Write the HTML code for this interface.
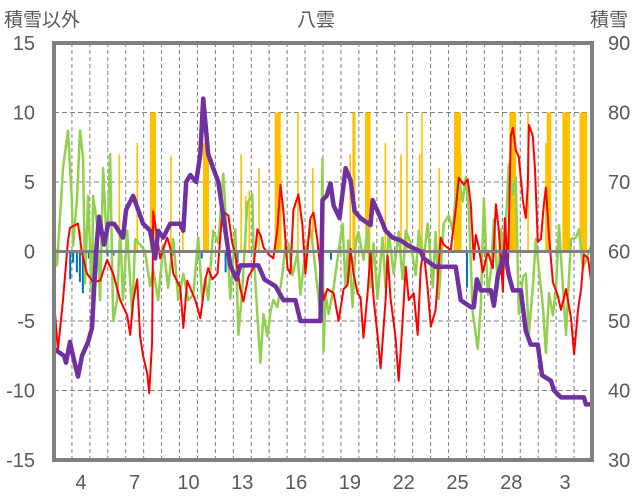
<!DOCTYPE html>
<html><head><meta charset="utf-8">
<style>
html,body{margin:0;padding:0;background:#fff;}
svg{display:block;font-family:"Liberation Sans","Noto Sans CJK JP",sans-serif;}
</style></head>
<body>
<svg id="chart" width="636" height="501" viewBox="0 0 636 501"></svg>
<script>
// ---- data ----
const leftTicks = [15, 10, 5, 0, -5, -10, -15];
const rightTicks = [90, 80, 70, 60, 50, 40, 30];
const dayLabels = ["4","7","10","13","16","19","22","25","28","3"];
const dayLabelIdx = [1,4,7,10,13,16,19,22,25,28];
const redT = [0,0.22,0.5,0.78,0.89,1.17,1.34,1.56,1.84,2.18,2.57,2.96,3.3,3.69,4.08,4.25,4.41,4.64,4.8,4.97,5.2,5.31,5.47,5.53,5.92,6.31,6.48,6.65,7.04,7.21,7.43,7.88,8.16,8.44,8.6,8.83,9.11,9.39,9.72,9.94,10.11,10.39,10.56,10.84,11.12,11.34,11.51,11.68,11.96,12.23,12.46,12.63,12.79,13.02,13.18,13.35,13.63,13.85,14.02,14.3,14.47,14.69,15.03,15.25,15.59,15.87,16.15,16.37,16.54,16.7,16.93,17.09,17.26,17.49,17.65,17.82,18.04,18.21,18.49,18.6,18.77,19.05,19.22,19.44,19.61,19.78,20.06,20.28,20.45,20.61,20.84,21.01,21.28,21.56,21.73,22.12,22.4,22.57,22.85,23.07,23.24,23.41,23.52,23.69,23.91,24.19,24.47,24.64,24.8,25.03,25.14,25.31,25.47,25.59,25.75,25.92,26.15,26.31,26.42,26.48,26.7,26.82,26.98,27.15,27.32,27.43,27.6,27.82,28.1,28.27,28.55,28.83,29.0,29.22,29.39,29.55,29.78,30];
const redV = [-3.5,-7.1,-3.5,0.8,1.7,1.9,2,-0.1,-1.6,-2.2,-2.1,-0.6,-1.6,-3.5,-4.6,-6,-3.6,-2,-6.1,-7.5,-8.8,-10.2,-6.5,2.9,-0.5,1,0.3,-1.6,-2.6,-5.5,-2.1,-3.5,-4.8,-2,-1.2,-2,-1.6,2.9,2.6,0.6,-0.2,-2.7,-3.6,-1.8,-1.2,1.6,1.2,0.3,-0.2,-0.5,1.6,4.8,2.9,-1.2,-1.6,3,4.1,1.9,-1.6,2.4,2.8,0.8,-3.5,-2.7,-3,-5,-2.7,-2.4,0.2,-1.6,-3,-3.3,-6.2,-2.9,0,-3.4,-6,-8.4,-3.5,-0.3,-3.4,-6.2,-9.3,-5,-1.1,-3.5,-3,-6,-1.2,0.1,-2.7,-5.4,-4.2,1,0.5,0.1,3,5.3,4.8,5.2,3.4,-0.6,1.2,0.3,-1.5,0,-1.2,3.4,1.6,-2.9,2.4,-1.2,8.3,8.9,7.3,6.8,3.6,2.4,4.8,9.1,8.3,5.9,0.7,0.9,3.4,4.6,1.1,-2.2,-3.2,-4.2,-2.7,-4.8,-7.4,-4.2,-2.7,-0.2,-0.5,-2.7];
const greenT = [0,0.17,0.5,0.78,1.0,1.06,1.28,1.45,1.62,1.73,1.9,2.12,2.18,2.4,2.57,2.74,2.96,3.13,3.3,3.52,3.69,3.85,4.08,4.36,4.53,4.8,5.08,5.36,5.53,5.81,6.09,6.37,6.65,6.93,7.21,7.49,7.77,8.04,8.27,8.44,8.6,8.88,9.16,9.44,9.66,9.83,10.11,10.28,10.5,10.78,11.06,11.12,11.34,11.51,11.68,11.9,12.07,12.23,12.46,12.74,12.91,13.07,13.3,13.58,13.74,14.02,14.3,14.47,14.69,14.86,14.97,15.03,15.14,15.31,15.59,15.87,16.09,16.26,16.42,16.65,16.82,16.98,17.26,17.49,17.65,17.82,18.04,18.32,18.49,18.66,18.94,19.22,19.44,19.61,19.89,20.17,20.34,20.61,20.84,21.12,21.28,21.45,21.73,22.01,22.23,22.4,22.57,22.79,22.96,23.13,23.35,23.63,23.8,23.97,24.19,24.36,24.53,24.75,24.92,25.08,25.36,25.59,25.75,25.92,26.15,26.31,26.48,26.7,26.87,27.04,27.26,27.43,27.6,27.82,27.99,28.16,28.38,28.55,28.83,29.11,29.27,29.5,29.78,30];
const greenV = [0.8,-1,6,8.7,3.6,0.4,3.8,8.7,6.7,-2.3,4,-3.5,4,2,-3.5,6,0,7,-5,-3.5,1.5,-3.5,1.5,-4.6,0.9,0.5,0,-2.5,-1.3,-3.5,0.5,-2.6,0.9,-3.5,-1.6,-3.5,-3.1,1,-3.5,-1.9,-3.5,1.5,0.6,5.6,0.6,-3.4,1.6,-6,-2.7,3.5,4.1,0.2,-4.6,-8,-4.5,-6.1,-4.3,-3.5,-4,-1.6,0.6,0.6,-1.7,-0.1,-3.1,0,1.6,0,-2.6,-4.6,6.7,-7.2,-3,-4.5,-2.6,0,2,-2.6,0.8,-4,0.6,1.4,-0.6,1.7,-2.6,0.6,-3.4,1,-2.6,1.4,-1.6,1.4,-2,1.5,0.6,-1.7,1.5,-0.6,2,-2.6,1.4,-3.4,2,2.6,1.5,4,5.3,3.6,5.3,3,-4.4,-7,-3.9,3.8,-3.1,-1.4,2.3,-2.6,1.6,-1.2,6.3,4.1,5.3,-4.5,-1.8,-1.6,-5.9,-2.6,0.9,-1.3,-4,-7.3,-3,-4.6,-2.6,1.9,-2.6,-6,0.9,1,1.6,-1.2,-0.2,0.6];
const depthT = [0,0.56,0.67,0.89,1.06,1.34,1.56,1.9,2.12,2.35,2.51,2.79,3.02,3.35,3.85,4.02,4.41,4.97,5.36,5.64,5.81,6.09,6.48,7.04,7.21,7.37,7.6,7.93,8.16,8.32,8.6,8.88,9.16,9.5,9.83,10.17,10.39,11.4,11.73,12.35,12.79,13.46,13.74,14.86,14.97,15.2,15.42,15.59,15.92,16.26,16.54,16.76,17.09,17.65,17.77,18.21,18.49,18.88,19.33,19.78,20.45,20.61,21.28,22.4,22.68,23.24,23.41,23.58,23.8,24.36,24.53,24.75,24.92,25.14,25.36,25.59,26.03,26.31,26.59,26.98,27.21,27.71,27.88,28.27,29.55,29.66,30];
const depthV = [46,45,44,47,45,42,45,47,49,60,65,61,64,64,62,66,68,64,63,59,63,62,64,64,63,70,71,70,74,82,74,72,70,64,58,56,58,58,56,55,53,53,50,50,67.4,68,69.8,66.6,64.8,72,70.2,65.8,64.8,63.8,67.4,64.8,63,62,61.6,60.8,60,59,57.8,57.8,53,52,52,56,54.4,54.4,52.2,56.6,58,60,56.6,54.4,54.4,48.6,46.6,46.6,42.2,41.4,40,39,39,38,38];
const snowH = [35,87,111,129,130,131,132,133,134,135,156,172,200,201,202,203,204,205,206,250,256,261,274,296,297,298,299,300,301,302,303,326,346,396,400,401,402,417,418,419,420,421,422,443,464,472,489,492,515,536,537,538,539,540,541,542,543,544,610,611,612,613,614,615,616,617,634,658,660,661,662,663,664,681,682,683,684,685,686,687,688,689,704,705,706,707,708,709,710,711,712];
const snowV = [1.5,7,7.8,10,10,10,10,10,10,10,6.9,2,7.8,7.8,8.5,8.5,8.5,8.5,8.5,7,4,4.4,6,10,10,10,10,10,10,10,7,10,6,7,10,10,10,10,10,10,10,10,10,7.8,7,10,7,10,6,10,10,10,10,10,10,10,10,7,10,10,10,10,10,10,10,10,10,7.8,10,10,10,10,10,10,10,10,10,10,10,10,10,10,10,10,10,10,10,10,10,10,10];
const meltH = [21,25,30,34,38,42,46,52,71,79,145,158,193,197,229,233,245,370,552,578];
const meltV = [-2,-0.8,-1.5,-2.2,-3,-0.8,-0.5,-0.6,-0.3,-0.3,-0.3,-0.3,-0.6,-0.5,-1.5,-0.8,-0.8,-0.6,-2.6,-0.9];

// ---- geometry ----
const X0 = 54, X1 = 592, Y0 = 43, Y1 = 460, DAYS = 30;
const xT = t => X0 + t * (X1 - X0) / DAYS;
const xH = h => xT(h / 24);
const yL = v => Y1 - (v + 15) * (Y1 - Y0) / 30;
const yR = v => Y1 - (v - 30) * (Y1 - Y0) / 60;
const NS = "http://www.w3.org/2000/svg";
const svg = document.getElementById('chart');
function mk(tag, attrs, parent) {
  const e = document.createElementNS(NS, tag);
  for (const k in attrs) e.setAttribute(k, attrs[k]);
  (parent || svg).appendChild(e);
  return e;
}
const defs = mk('defs', {});
const cp = mk('clipPath', {id: 'plotclip'}, defs);
mk('rect', {x: X0, y: Y0, width: X1 - X0, height: Y1 - Y0}, cp);

// grid
const grid = mk('g', {});


for (let d = 1; d < DAYS; d++) {
  const l = mk('line', {x1: xT(d), x2: xT(d), y1: Y0, y2: Y1, stroke: '#7f7f7f', 'stroke-width': 1, 'stroke-dasharray': '4,3'}, grid);
  
  
}
[10, 5, -5, -10].forEach(v => {
  const l = mk('line', {x1: X0, x2: X1, y1: yL(v), y2: yL(v), stroke: '#7f7f7f', 'stroke-width': 1, 'stroke-dasharray': '5,3'}, grid);
  
  
});

// bars
const bars = mk('g', {'clip-path': 'url(#plotclip)'});


snowH.forEach((h, i) => {
  const y = yL(snowV[i]);
  const b = mk('rect', {x: xH(h) - 0.5, y: y, width: 1.6, height: yL(0) - y, fill: '#FFC000'}, bars);
  
  
});
const mbars = mk('g', {'clip-path': 'url(#plotclip)'});


meltH.forEach((h, i) => {
  const b = mk('rect', {x: xH(h) - 0.5, y: yL(0), width: 2, height: yL(meltV[i]) - yL(0), fill: '#0070C0'}, mbars);
  
  
});

function line(ts, vs, yf, color, w, name) {
  const d = ts.map((t, i) => (i ? 'L' : 'M') + xT(t).toFixed(1) + ',' + yf(vs[i]).toFixed(1)).join('');
  const p = mk('path', {d: d, fill: 'none', stroke: color, 'stroke-width': w, 'stroke-linejoin': 'round', 'clip-path': 'url(#plotclip)'});
  
  
}
line(greenT, greenV, yL, '#92D050', 2.5, 'series-green-line');
line(redT, redV, yL, '#FF0000', 2, 'series-red-line');

// zero line
const z = mk('line', {x1: X0, x2: X1, y1: yL(0), y2: yL(0), stroke: '#808080', 'stroke-width': 3});



line(depthT, depthV, yR, '#7030A0', 4.5, 'snow-depth-line');

// frame
const fr = mk('rect', {x: X0, y: Y0, width: X1 - X0, height: Y1 - Y0, fill: 'none', stroke: '#808080', 'stroke-width': 4});



// axis labels
leftTicks.forEach(v => {
  const t = mk('text', {x: 35, y: yL(v) + 7, 'text-anchor': 'end', 'font-size': 20, fill: '#595959'});
  t.textContent = v;
  
  
});
rightTicks.forEach(v => {
  const t = mk('text', {x: 608, y: yR(v) + 7, 'text-anchor': 'start', 'font-size': 20, fill: '#595959'});
  t.textContent = v;
  
  
});
dayLabels.forEach((s, i) => {
  const t = mk('text', {x: xT(dayLabelIdx[i] + 0.5), y: 489, 'text-anchor': 'middle', 'font-size': 20, fill: '#595959'});
  t.textContent = s;
  
  
});
</script>
<svg width="0" height="0"></svg>
<div style="position:absolute;left:0;top:0;width:636px;height:30px;font-family:'Liberation Sans','Noto Sans CJK JP',sans-serif;font-size:19px;color:#595959;">
  <span style="position:absolute;left:4px;top:5px;">積雪以外</span>
  <span style="position:absolute;left:297px;top:5px;">八雲</span>
  <span style="position:absolute;left:590px;top:5px;">積雪</span>
</div>
</body></html>
